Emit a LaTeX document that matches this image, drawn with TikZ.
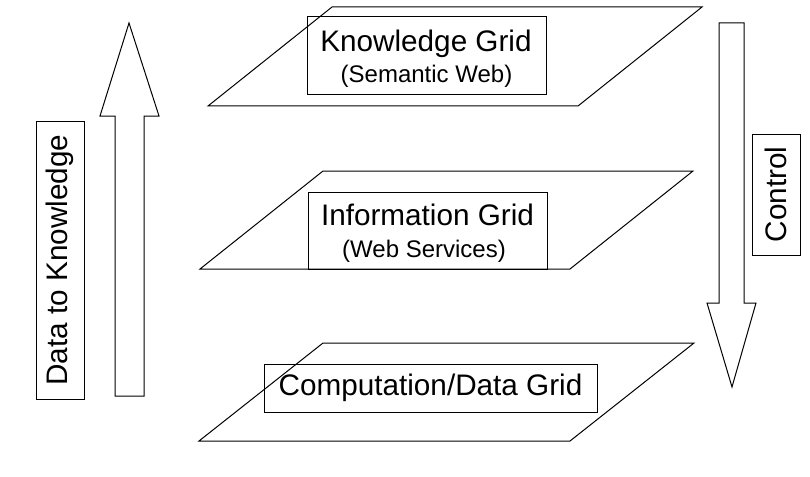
\documentclass[tikz,border=0pt]{standalone}
\usepackage{fontspec}
\setmainfont{Liberation Sans}
\begin{document}
\begin{tikzpicture}[x=1pt,y=1pt,
  plane/.style={draw=black, line width=1pt, line join=miter},
  blockarrow/.style={draw=black, line width=1pt, fill=white, line join=miter},
  labelbox/.style={draw=black, line width=1pt, inner sep=0pt, align=center},
  bigfont/.style={font=\fontsize{29.7}{31}\selectfont},
  smallfont/.style={font=\fontsize{24}{26}\selectfont},
  titletext/.style={bigfont, anchor=base, inner sep=0pt},
  subtext/.style={smallfont, anchor=base, inner sep=0pt},
]
\useasboundingbox (0,0) rectangle (810,-476);

% the three layer planes
\draw[plane] (208,-106) -- (332,-7) -- (702,-7) -- (578,-106) -- cycle;
\draw[plane] (200,-269) -- (323,-171) -- (693,-171) -- (570,-269) -- cycle;
\draw[plane] (199,-441) -- (323,-343) -- (694,-343) -- (570,-441) -- cycle;

% layer labels
\node[labelbox, minimum width=239pt, minimum height=78pt] (kgrid) at (426.5,-56) {};
\node[titletext] (kgridtitle) at (426,-52) {Knowledge Grid};
\node[subtext] (kgridsub) at (426.5,-83) {(Semantic Web)};

\node[labelbox, minimum width=239pt, minimum height=77pt] (igrid) at (427.5,-230.5) {};
\node[titletext] (igridtitle) at (427.5,-225) {Information Grid};
\node[subtext] (igridsub) at (424,-257) {(Web Services)};

\node[labelbox, bigfont, minimum width=333pt, minimum height=48pt] (cgrid) at (430.5,-388)
  {Computation/Data Grid};

% upward block arrow
\coordinate (uptip) at (129,-23);
\draw[blockarrow] (uptip) -- (159,-116) -- (144,-116) -- (144,-396) -- (115,-396)
  -- (115,-116) -- (100,-116) -- cycle;
% downward block arrow
\coordinate (downtip) at (732,-387);
\draw[blockarrow] (downtip) -- (756,-303) -- (744,-303) -- (744,-23) -- (719,-23)
  -- (719,-303) -- (707,-303) -- cycle;

% arrow captions
\node[labelbox, bigfont, rotate=90, minimum width=278pt, minimum height=48pt] (upcap) at (60,-260)
  {Data to Knowledge};
\node[labelbox, bigfont, rotate=90, minimum width=121pt, minimum height=48pt] (downcap) at (776,-194.5)
  {Control};
\end{tikzpicture}
\end{document}
